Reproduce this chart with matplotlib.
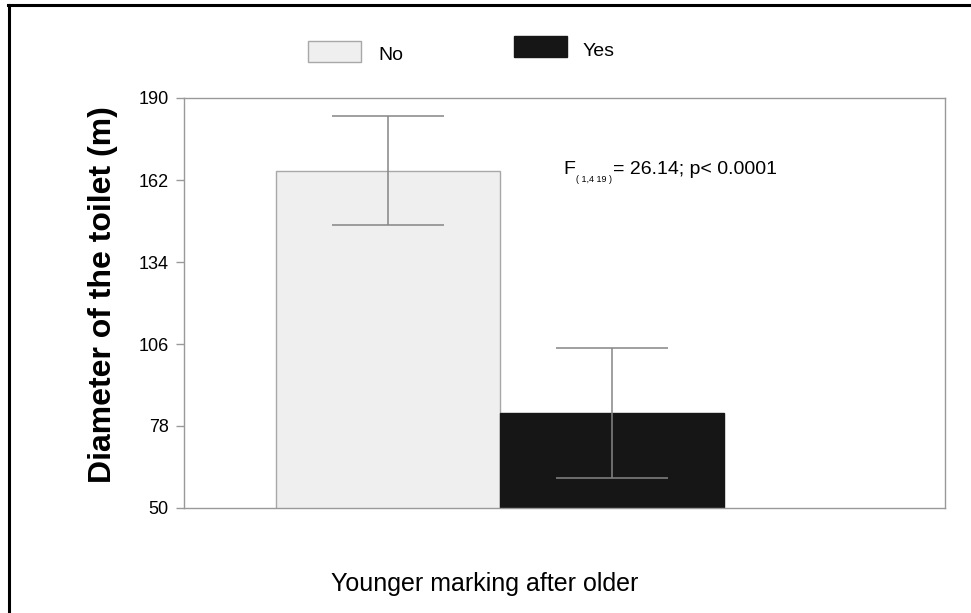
import matplotlib
matplotlib.use("Agg")
import matplotlib.pyplot as plt
from matplotlib.lines import Line2D
from matplotlib.patches import Rectangle

categories = ["No", "Yes"]
means = [165.1, 82.4]
err_upper = [18.7, 22.2]
err_lower = [18.5, 22.2]
bar_colors = ["#efefef", "#161616"]
yticks = [50, 78, 106, 134, 162, 190]

plt.rcParams['font.family'] = ['Liberation Sans', 'DejaVu Sans']

W, H = 971, 613
fig = plt.figure(figsize=(W / 100, H / 100), dpi=100)
ax = fig.add_axes([184 / W, 1 - 508 / H, (945 - 184) / W, (508 - 98) / H])

x = list(range(len(categories)))
ax.bar(x, means, width=1.0, color=bar_colors, edgecolor=["#a8a8a8", "#161616"],
       linewidth=1.0, zorder=2)
ax.errorbar(x, means, yerr=[err_lower, err_upper], fmt="none", ecolor="#858585",
            elinewidth=1.1, capsize=40, capthick=1.1, zorder=3)

ax.set_ylim(50, 190)
ax.set_xlim(-0.911, 2.487)
ax.set_yticks(yticks)
ax.set_yticklabels([str(t) for t in yticks], fontsize=13)
ax.set_xticks([])
ax.tick_params(axis="y", direction="out", length=6, width=1, color="#999999", pad=5)
for s in ax.spines.values():
    s.set_color("#999999")
    s.set_linewidth(1.0)

ax.set_ylabel("Diameter of the toilet (m)", fontsize=23, fontweight="bold",
              family=['Liberation Sans', 'DejaVu Sans'])
ax.yaxis.set_label_coords(-0.087, 0.52)
ax.set_xlabel("Younger marking after older", fontsize=18)
ax.xaxis.set_label_coords(0.3955, -0.155)

# annotation
fig.text(563 / W, 1 - 170 / H, "F", fontsize=14, ha="left", va="center")
fig.text(576 / W, 1 - 180 / H, "( 1,4 19 )", fontsize=6.5, ha="left", va="center")
fig.text(613 / W, 1 - 170 / H, "= 26.14; p< 0.0001", fontsize=14, ha="left", va="center")

# legend
fig.add_artist(Rectangle((308 / W, 1 - 62 / H), 53 / W, 21 / H, transform=fig.transFigure,
                         facecolor=bar_colors[0], edgecolor="#a8a8a8", linewidth=1.0))
fig.text(378 / W, 1 - 56 / H, categories[0], fontsize=14, ha="left", va="center")
fig.add_artist(Rectangle((514 / W, 1 - 57 / H), 53 / W, 21 / H, transform=fig.transFigure,
                         facecolor=bar_colors[1], edgecolor=bar_colors[1], linewidth=1.0))
fig.text(583 / W, 1 - 51 / H, categories[1], fontsize=14, ha="left", va="center")

# outer frame (top and left visible)
fig.add_artist(Line2D([9 / W, 9 / W], [0, 1 - 4.5 / H], transform=fig.transFigure,
                      color="black", linewidth=2.2))
fig.add_artist(Line2D([8 / W, 1], [1 - 4.5 / H, 1 - 4.5 / H], transform=fig.transFigure,
                      color="black", linewidth=2.2))

fig.savefig("out.png", dpi=100)
